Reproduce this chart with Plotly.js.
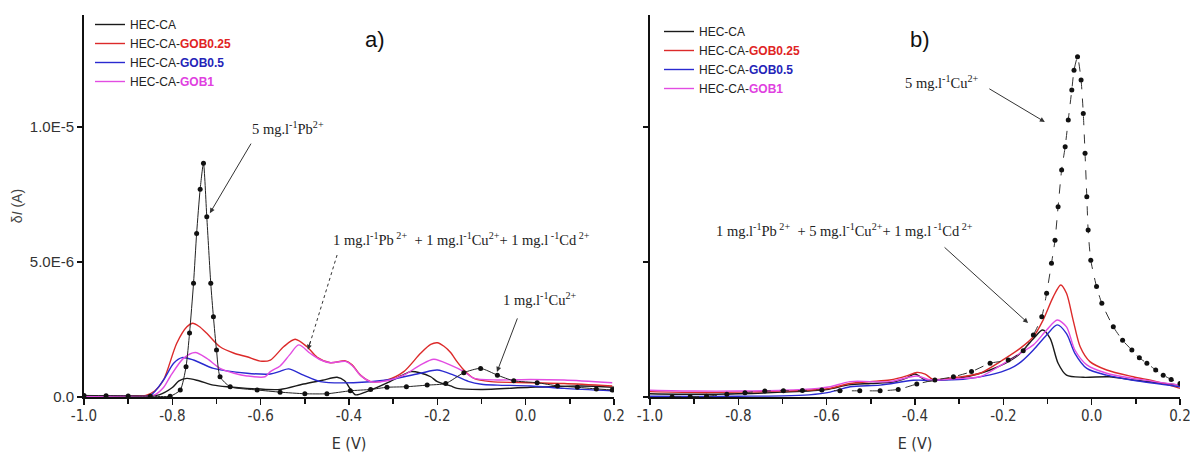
<!DOCTYPE html>
<html>
<head>
<meta charset="utf-8">
<script src="https://cdn.plot.ly/plotly-3.0.1.min.js"></script>
<style>html,body{margin:0;padding:0;background:#fff;}#chart{width:1190px;height:458px;}</style>
</head>
<body>
<div id="chart"></div>
<script>
// ---------- Panel a) : potential E (V) and current dI (in 1e-6 A) ----------
const aBlackE = [-1.0,-0.9,-0.85,-0.83,-0.80,-0.785,-0.767,-0.74,-0.707,-0.67,-0.631,-0.556,-0.503,-0.46,-0.427,-0.41,-0.397,-0.385,-0.36,-0.31,-0.28,-0.26,-0.24,-0.215,-0.2,-0.17,-0.155,-0.102,0.011,0.125,0.2];
const aBlackI = [0.05,0.04,0.05,0.08,0.35,0.6,0.69,0.6,0.44,0.37,0.32,0.28,0.48,0.62,0.73,0.6,0.3,0.08,0.2,0.55,0.8,0.94,0.9,0.75,0.57,0.41,0.32,0.28,0.36,0.41,0.36];

const aRedE = [-1.0,-0.9,-0.86,-0.84,-0.82,-0.79,-0.767,-0.754,-0.74,-0.722,-0.692,-0.66,-0.631,-0.601,-0.578,-0.548,-0.522,-0.495,-0.472,-0.442,-0.408,-0.393,-0.374,-0.351,-0.314,-0.276,-0.238,-0.215,-0.2,-0.185,-0.17,-0.155,-0.14,-0.117,-0.079,0.01,0.087,0.196];
const aRedI = [0.04,0.04,0.06,0.22,0.63,1.99,2.6,2.73,2.62,2.36,1.86,1.62,1.49,1.33,1.37,1.86,2.14,1.86,1.47,1.27,1.34,1.19,0.81,0.57,0.63,0.94,1.62,1.95,2.01,1.88,1.65,1.3,1.0,0.69,0.57,0.53,0.5,0.41];

const aBlueE = [-1.0,-0.9,-0.85,-0.82,-0.797,-0.778,-0.752,-0.707,-0.631,-0.578,-0.556,-0.537,-0.503,-0.465,-0.39,-0.314,-0.238,-0.2,-0.163,-0.13,-0.1,-0.064,0.011,0.087,0.196];
const aBlueI = [0.03,0.03,0.06,0.63,1.25,1.46,1.37,1.06,0.88,0.85,0.95,1.04,0.81,0.57,0.53,0.63,0.88,1.0,0.81,0.58,0.47,0.44,0.41,0.32,0.23];

const aPinkE = [-1.0,-0.9,-0.843,-0.82,-0.805,-0.775,-0.748,-0.722,-0.692,-0.66,-0.631,-0.59,-0.578,-0.556,-0.535,-0.514,-0.488,-0.465,-0.442,-0.408,-0.393,-0.374,-0.351,-0.314,-0.276,-0.238,-0.208,-0.17,-0.14,-0.117,-0.064,0.011,0.087,0.196];
const aPinkI = [0.03,0.03,0.05,0.35,0.75,1.43,1.65,1.43,1.06,0.88,0.78,0.75,0.94,1.15,1.55,1.93,1.62,1.38,1.27,1.32,1.17,0.8,0.57,0.6,0.81,1.19,1.4,1.18,0.94,0.69,0.63,0.65,0.63,0.53];

// dotted reference curve (5 mg/l Pb2+ ... 1 mg/l Cu2+)
const aDotE = [-1.0,-0.95,-0.9,-0.85,-0.805,-0.782,-0.769,-0.761,-0.752,-0.745,-0.737,-0.7295,-0.722,-0.713,-0.707,-0.70,-0.692,-0.669,-0.608,-0.556,-0.5,-0.45,-0.397,-0.351,-0.314,-0.27,-0.223,-0.181,-0.14,-0.102,-0.064,-0.027,0.026,0.072,0.117,0.16,0.196];
const aDotI = [0.06,0.05,0.04,0.03,0.03,0.26,1.12,2.37,4.21,6.06,7.7,8.66,6.68,4.21,2.97,1.74,0.75,0.38,0.26,0.18,0.12,0.12,0.23,0.28,0.36,0.38,0.44,0.5,0.9,1.06,0.81,0.6,0.53,0.41,0.36,0.3,0.26];

// ---------- Panel b) ----------
const bBlackE = [-1.0,-0.9,-0.8,-0.7,-0.6,-0.55,-0.5,-0.45,-0.42,-0.4,-0.374,-0.35,-0.3,-0.23,-0.17,-0.132,-0.111,-0.094,-0.076,-0.057,-0.019,0.04,0.1,0.2];
const bBlackI = [0.12,0.1,0.12,0.18,0.28,0.45,0.5,0.55,0.7,0.85,0.6,0.62,0.7,1.0,1.5,2.16,2.48,2.17,1.25,0.81,0.73,0.75,0.62,0.44];

const bRedE = [-1.0,-0.9,-0.8,-0.7,-0.62,-0.592,-0.547,-0.502,-0.457,-0.419,-0.396,-0.377,-0.359,-0.306,-0.253,-0.208,-0.162,-0.132,-0.11,-0.087,-0.07,-0.057,-0.042,-0.026,-0.004,0.034,0.094,0.147,0.2];
const bRedI = [0.2,0.17,0.18,0.22,0.28,0.32,0.5,0.57,0.63,0.78,0.91,0.85,0.65,0.73,0.88,1.3,1.8,2.23,2.85,3.71,4.15,3.84,2.85,1.86,1.31,1.0,0.75,0.57,0.32];

const bBlueE = [-1.0,-0.9,-0.8,-0.7,-0.64,-0.592,-0.547,-0.479,-0.404,-0.366,-0.291,-0.23,-0.185,-0.16,-0.132,-0.102,-0.078,-0.057,-0.038,-0.011,0.034,0.094,0.2];
const bBlueI = [0.03,0.02,0.03,0.04,0.08,0.18,0.38,0.44,0.62,0.62,0.66,0.82,1.05,1.3,1.74,2.3,2.67,2.35,1.62,1.06,0.81,0.62,0.38];

const bPinkE = [-1.0,-0.9,-0.8,-0.7,-0.62,-0.592,-0.547,-0.457,-0.396,-0.366,-0.306,-0.253,-0.208,-0.162,-0.132,-0.102,-0.078,-0.057,-0.038,-0.011,0.034,0.094,0.2];
const bPinkI = [0.25,0.22,0.22,0.25,0.32,0.38,0.57,0.57,0.78,0.63,0.68,0.75,1.15,1.62,1.93,2.48,2.85,2.6,1.74,1.19,0.88,0.69,0.44];

const bDotE = [-0.95,-0.909,-0.872,-0.826,-0.785,-0.74,-0.698,-0.655,-0.611,-0.57,-0.525,-0.479,-0.438,-0.396,-0.355,-0.313,-0.272,-0.23,-0.189,-0.155,-0.132,-0.113,-0.102,-0.091,-0.083,-0.076,-0.068,-0.06,-0.053,-0.045,-0.04,-0.032,-0.024,-0.019,-0.015,-0.011,-0.008,-0.002,0.011,0.023,0.049,0.07,0.091,0.108,0.125,0.145,0.162,0.18,0.2];
const bDotI = [0.0,0.01,0.03,0.1,0.16,0.22,0.23,0.24,0.26,0.23,0.23,0.23,0.28,0.48,0.63,0.75,0.94,1.25,1.37,1.71,2.3,2.97,3.84,4.95,5.81,7.05,8.41,9.27,10.26,11.37,12.1,12.6,11.74,10.5,9.03,7.42,6.19,5.07,4.09,3.47,2.6,2.1,1.74,1.45,1.25,1.0,0.81,0.65,0.5];

const seriesNames = ["HEC-CA",
  "HEC-CA-<b><span style='color:#e02424'>GOB0.25</span></b>",
  "HEC-CA-<b><span style='color:#2424b8'>GOB0.5</span></b>",
  "HEC-CA-<b><span style='color:#e040e0'>GOB1</span></b>"];
const seriesColors = ["#1a1a1a","#dc2a2a","#2a2ad0","#e24ce2"];

const xTickVals = [-1.0,-0.8,-0.6,-0.4,-0.2,0.0,0.2];
const xTickText = ["-1.0","-0.8","-0.6","-0.4","-0.2","0.0","0.2"];
const yTickVals = [0,5,10];
const yTickText = ["0.0","5.0E-6","1.0E-5"];

// ---------- build traces ----------
const A = [[aBlackE,aBlackI],[aRedE,aRedI],[aBlueE,aBlueI],[aPinkE,aPinkI]];
const B = [[bBlackE,bBlackI],[bRedE,bRedI],[bBlueE,bBlueI],[bPinkE,bPinkI]];
const traces = [];
A.forEach((s,i)=>traces.push({x:s[0],y:s[1],type:'scatter',mode:'lines',name:seriesNames[i],
  line:{color:seriesColors[i],width:1.4,shape:'spline',smoothing:0.8},xaxis:'x',yaxis:'y',legend:'legend'}));
traces.push({x:aDotE,y:aDotI,type:'scatter',mode:'lines+markers',showlegend:false,
  line:{color:'#222',width:1,shape:'spline',smoothing:0.6},marker:{color:'#111',size:5},xaxis:'x',yaxis:'y'});
B.forEach((s,i)=>traces.push({x:s[0],y:s[1],type:'scatter',mode:'lines',name:seriesNames[i],
  line:{color:seriesColors[i],width:1.4,shape:'spline',smoothing:0.8},xaxis:'x2',yaxis:'y2',legend:'legend2'}));
traces.push({x:bDotE,y:bDotI,type:'scatter',mode:'lines+markers',showlegend:false,
  line:{color:'#333',width:1,dash:'dash',shape:'spline',smoothing:0.6},marker:{color:'#111',size:5},xaxis:'x2',yaxis:'y2'});

const W=1190,H=458;
const tickFont = {family:"'Liberation Sans Narrow','DejaVu Sans Condensed','Liberation Sans',sans-serif",size:15,color:'#333'};
function xax(dom, anchor){
  return {domain:dom, anchor:anchor, range:[-1.0,0.2], tickvals:xTickVals, ticktext:xTickText,
    ticks:'outside', ticklen:6, tickwidth:1.5, tickcolor:'#111', ticklabeloverflow:'allow', ticklabelstandoff:-2,
    minor:{dtick:0.1, tick0:0, ticks:'outside', ticklen:5, tickwidth:1.5, tickcolor:'#111'},
    showline:true, linecolor:'#111', linewidth:2, showgrid:false, zeroline:false,
    tickfont:tickFont, title:{text:'E (V)', font:{family:tickFont.family,size:16,color:'#333'}, standoff:14}};
}
function yax(anchor, labels){
  return {domain:[(H-397)/H,(H-15)/H], anchor:anchor, range:[0,14.15], tickvals:yTickVals, ticktext:yTickText,
    showticklabels:labels, ticks:'outside', ticklen:5, tickwidth:1.5, tickcolor:'#111',
    showline:true, linecolor:'#111', linewidth:2, showgrid:false, zeroline:false,
    tickfont:{family:"'Liberation Sans',Arial,sans-serif",size:15,color:'#333'},
    title: labels ? {text:'δ<i>I</i> (A)', font:{family:"'Liberation Sans',Arial,sans-serif",size:14,color:'#444'}, standoff:4} : {text:''}};
}
const serif = {family:"'Liberation Serif','Times New Roman',serif",size:14.5,color:'#222'};
function txt(xr,yr,x,y,t,font){return {xref:xr,yref:yr,x:x,y:y,text:t,showarrow:false,font:font||serif,xanchor:'center',yanchor:'middle'};}
function arr(xr,yr,x,y,ax,ay){return {xref:xr,yref:yr,x:x,y:y,text:'',showarrow:true,ax:ax,ay:ay,arrowhead:2,arrowsize:1,arrowwidth:1,arrowcolor:'#333'};}

const legFont = {family:"'Liberation Sans',Arial,sans-serif",size:12,color:'#222'};
const layout = {
  width:W, height:H, margin:{l:0,r:0,t:0,b:0}, paper_bgcolor:'#fff', plot_bgcolor:'#fff',
  showlegend:true, hovermode:false,
  xaxis: xax([84/W,614/W],'y'),
  yaxis: yax('x',true),
  xaxis2: xax([650/W,1180/W],'y2'),
  yaxis2: yax('x2',false),
  legend:{x:90/W, y:1-10/H, xanchor:'left', yanchor:'top', bgcolor:'rgba(0,0,0,0)', itemwidth:30,
    font:legFont, tracegroupgap:0},
  legend2:{x:659/W, y:1-17/H, xanchor:'left', yanchor:'top', bgcolor:'rgba(0,0,0,0)', itemwidth:30,
    font:legFont, tracegroupgap:0},
  annotations:[
    txt('x','y',-0.341,13.25,'a)',{family:"'Liberation Sans',Arial,sans-serif",size:22,color:'#111'}),
    txt('x','y',-0.538,9.96,'5 mg.l<sup>-1</sup>Pb<sup>2+</sup>'),
    arr('x','y',-0.715,6.81,42,-71),
    txt('x','y',-0.146,5.85,'1 mg.l<sup>-1</sup>Pb<sup> 2+</sup>  + 1 mg.l<sup>-1</sup>Cu<sup>2+</sup>+ 1 mg.l<sup> -1</sup>Cd<sup> 2+</sup>'),
    arr('x','y',-0.493,1.75,3,-10),
    txt('x','y',0.032,3.62,'1 mg.l<sup>-1</sup>Cu<sup>2+</sup>'),
    arr('x','y',-0.065,0.93,21,-55),
    txt('x2','y2',-0.389,13.25,'b)',{family:"'Liberation Sans',Arial,sans-serif",size:22,color:'#111'}),
    txt('x2','y2',-0.34,11.65,'5 mg.l<sup>-1</sup>Cu<sup>2+</sup>'),
    arr('x2','y2',-0.106,10.19,-57,-34),
    txt('x2','y2',-0.56,6.2,'1 mg.l<sup>-1</sup>Pb<sup> 2+</sup>  + 5 mg.l<sup>-1</sup>Cu<sup>2+</sup>+ 1 mg.l<sup> -1</sup>Cd<sup> 2+</sup>'),
    arr('x2','y2',-0.144,2.74,-85,-77)
  ],
  shapes:[
    {type:'line',xref:'x',yref:'y',x0:-0.427,y0:5.26,x1:-0.49,y1:1.9,line:{color:'#333',width:1,dash:'dot'}}
  ]
};
Plotly.newPlot('chart',traces,layout,{staticPlot:true,displayModeBar:false});
</script>
</body>
</html>
